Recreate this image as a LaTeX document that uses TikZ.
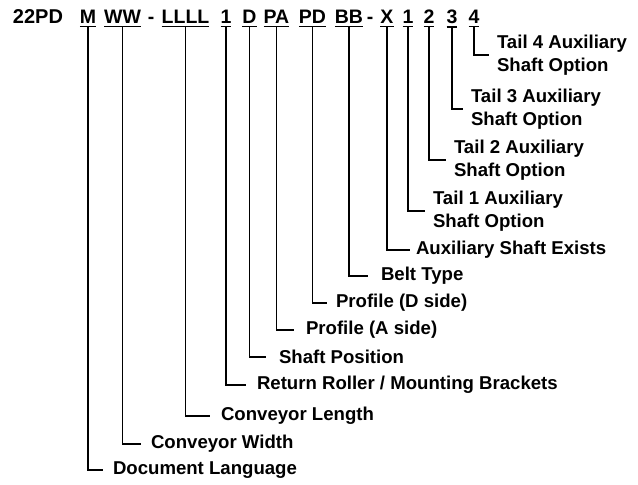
\documentclass[tikz,border=0pt]{standalone}
\usepackage{fontspec}
\setmainfont{Liberation Sans}
\usepackage{tikz}
\usetikzlibrary{positioning}

\begin{document}
\begin{tikzpicture}[x=1pt,y=-1pt,
  head/.style={anchor=base,inner sep=0pt,outer sep=0pt,font=\fontsize{20}{22}\selectfont\bfseries},
  code/.style={anchor=base,inner xsep=0pt,inner ysep=3.5pt,outer sep=0pt,font=\fontsize{19.5}{22}\selectfont\bfseries},
  lbl/.style={anchor=west,inner xsep=#1,xshift=-#1,inner ysep=0pt,outer sep=0pt,align=left,font=\fontsize{18.6}{22.5}\selectfont\bfseries},
  lbl/.default=9pt,
  wire/.style={line width=1.3pt},
  uline/.style={line width=1.6pt}]
\useasboundingbox (0,0) rectangle (638,485);
% code string
\node[head] (pfx) at (38,23) {22PD};
\node[code] (lang) at (88,23) {M};
\node[code] (wid) at (122.5,23) {WW};
\node[code] (sep1) at (151,23) {-};
\node[code] (len) at (185.5,23) {LLLL};
\node[code] (ret) at (226,23) {1};
\node[code] (shaft) at (249.5,23) {D};
\node[code] (profa) at (276.5,23) {PA};
\node[code] (profd) at (312.5,23) {PD};
\node[code] (belt) at (349,23) {BB};
\node[code] (sep2) at (370,23) {-};
\node[code] (aux) at (387,23) {X};
\node[code] (tail1) at (408,23) {1};
\node[code] (tail2) at (429,23) {2};
\node[code] (tail3) at (452,23) {3};
\node[code] (tail4) at (474,23) {4};
\foreach \n in {lang,wid,len,ret,shaft,profa,profd,belt,aux,tail1,tail2,tail3,tail4}
  \draw[uline] (\n.south west) -- (\n.south east);
% descriptions
\node[lbl=8pt] (tail4txt) at (497,55) {Tail 4 Auxiliary\\Shaft Option};
\node[lbl=8pt] (tail3txt) at (471,109) {Tail 3 Auxiliary\\Shaft Option};
\node[lbl=8pt] (tail2txt) at (454,160) {Tail 2 Auxiliary\\Shaft Option};
\node[lbl=8pt] (tail1txt) at (433,211) {Tail 1 Auxiliary\\Shaft Option};
\node[lbl=6pt] (auxtxt) at (416,250) {Auxiliary Shaft Exists};
\node[lbl=13pt] (belttxt) at (381,276) {Belt Type};
\node[lbl=9pt] (profdtxt) at (336,303) {Profile (D side)};
\node[lbl=12pt] (profatxt) at (306,330) {Profile (A side)};
\node[lbl=13pt] (shafttxt) at (279,357) {Shaft Position};
\node[lbl=11pt] (rettxt) at (257,385) {Return Roller / Mounting Brackets};
\node[lbl=11pt] (lentxt) at (221,416) {Conveyor Length};
\node[lbl=10pt] (widtxt) at (151,444) {Conveyor Width};
\node[lbl=10pt] (langtxt) at (113,470) {Document Language};
% leaders
\draw[wire] (lang.south) |- (langtxt.west);
\draw[wire] (wid.south) |- (widtxt.west);
\draw[wire] (len.south) |- (lentxt.west);
\draw[wire] (ret.south) |- (rettxt.west);
\draw[wire] (shaft.south) |- (shafttxt.west);
\draw[wire] (profa.south) |- (profatxt.west);
\draw[wire] (profd.south) |- (profdtxt.west);
\draw[wire] (belt.south) |- (belttxt.west);
\draw[wire] (aux.south) |- (auxtxt.west);
\draw[wire] (tail1.south) |- (tail1txt.west);
\draw[wire] (tail2.south) |- (tail2txt.west);
\draw[wire] (tail3.south) |- (tail3txt.west);
\draw[wire] (tail4.south) |- (tail4txt.west);
\end{tikzpicture}
\end{document}
